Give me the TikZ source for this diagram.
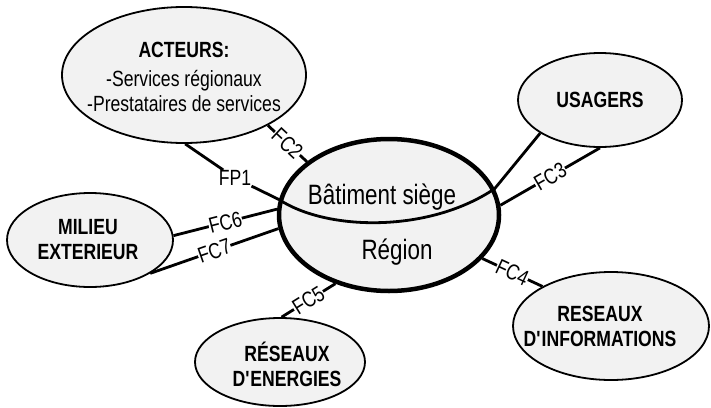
\documentclass[tikz,border=0pt]{standalone}
\usepackage{fontspec}
\setmainfont{Liberation Sans}[FakeStretch=0.8]
\usetikzlibrary{shapes.geometric}
\begin{document}
\begin{tikzpicture}[x=1pt,y=-1pt,
  ell/.style={ellipse, draw, line width=1.8pt, fill=black!5, inner sep=0pt},
  conn/.style={line width=2.8pt},
  lbl/.style={font=\fontsize{22}{24}\selectfont, fill=white, inner sep=0.3pt},
  txt/.style={font=\fontsize{22}{25}\selectfont\bfseries, align=center, inner sep=0pt},
  rtxt/.style={font=\fontsize{22}{24}\selectfont, inner sep=0pt},
  ctxt/.style={font=\fontsize{28}{30}\selectfont, inner sep=0pt}]
\useasboundingbox (0,0) rectangle (711,407);
% ellipses
\node[ell, minimum width=244pt, minimum height=136pt] (act) at (184,75) {};
\node[ell, line width=4.5pt, minimum width=220pt, minimum height=152pt] (c) at (389,215) {};
\node[ell, minimum width=164pt, minimum height=94pt] (usa) at (600,100) {};
\node[ell, minimum width=166pt, minimum height=94pt] (mil) at (90,240) {};
\node[ell, minimum width=170pt, minimum height=88pt] (ene) at (280,362) {};
\node[ell, minimum width=196pt, minimum height=108pt] (inf) at (611,326) {};
% texts
\node[txt] (actt) at (184,50) {ACTEURS:};
\node[rtxt] (act1) at (184,81) {-Services régionaux};
\node[rtxt] (act2) at (184,104) {-Prestataires de services};
\node[ctxt] (bs) at (382,197) {Bâtiment siège};
\node[ctxt] (reg) at (397,252) {Région};
\node[txt] (usat) at (600,100) {USAGERS};
\node[txt] (milt) at (88,240) {MILIEU\\EXTERIEUR};
\node[txt] (enet) at (287,364) {RÉSEAUX\\D\textquotesingle ENERGIES};
\node[txt] (inft) at (600,326) {RESEAUX\\D\textquotesingle INFORMATIONS};
% FP1
\node[lbl] (fp1) at (235,178) {FP1};
\draw[conn] (act.-89) -- (fp1) -- (c.172) .. controls +(49,32) and +(-65,44) .. (c.14) -- (usa.-151);
% FC
\draw[conn] (act.-31) -- node[lbl,sloped] {FC2} (c.147);
\draw[conn] (c.5) -- node[lbl,sloped] {FC3} (usa.-90);
\draw[conn] (c.-25) -- node[lbl,sloped] {FC4} (inf.150);
\draw[conn] (ene.88) -- node[lbl,sloped] {FC5} (c.-128);
\draw[conn] (mil.3) -- node[lbl,sloped] {FC6} (c.177);
\draw[conn] (mil.-29) -- node[lbl,sloped] {FC7} (c.-173);
\end{tikzpicture}
\end{document}
